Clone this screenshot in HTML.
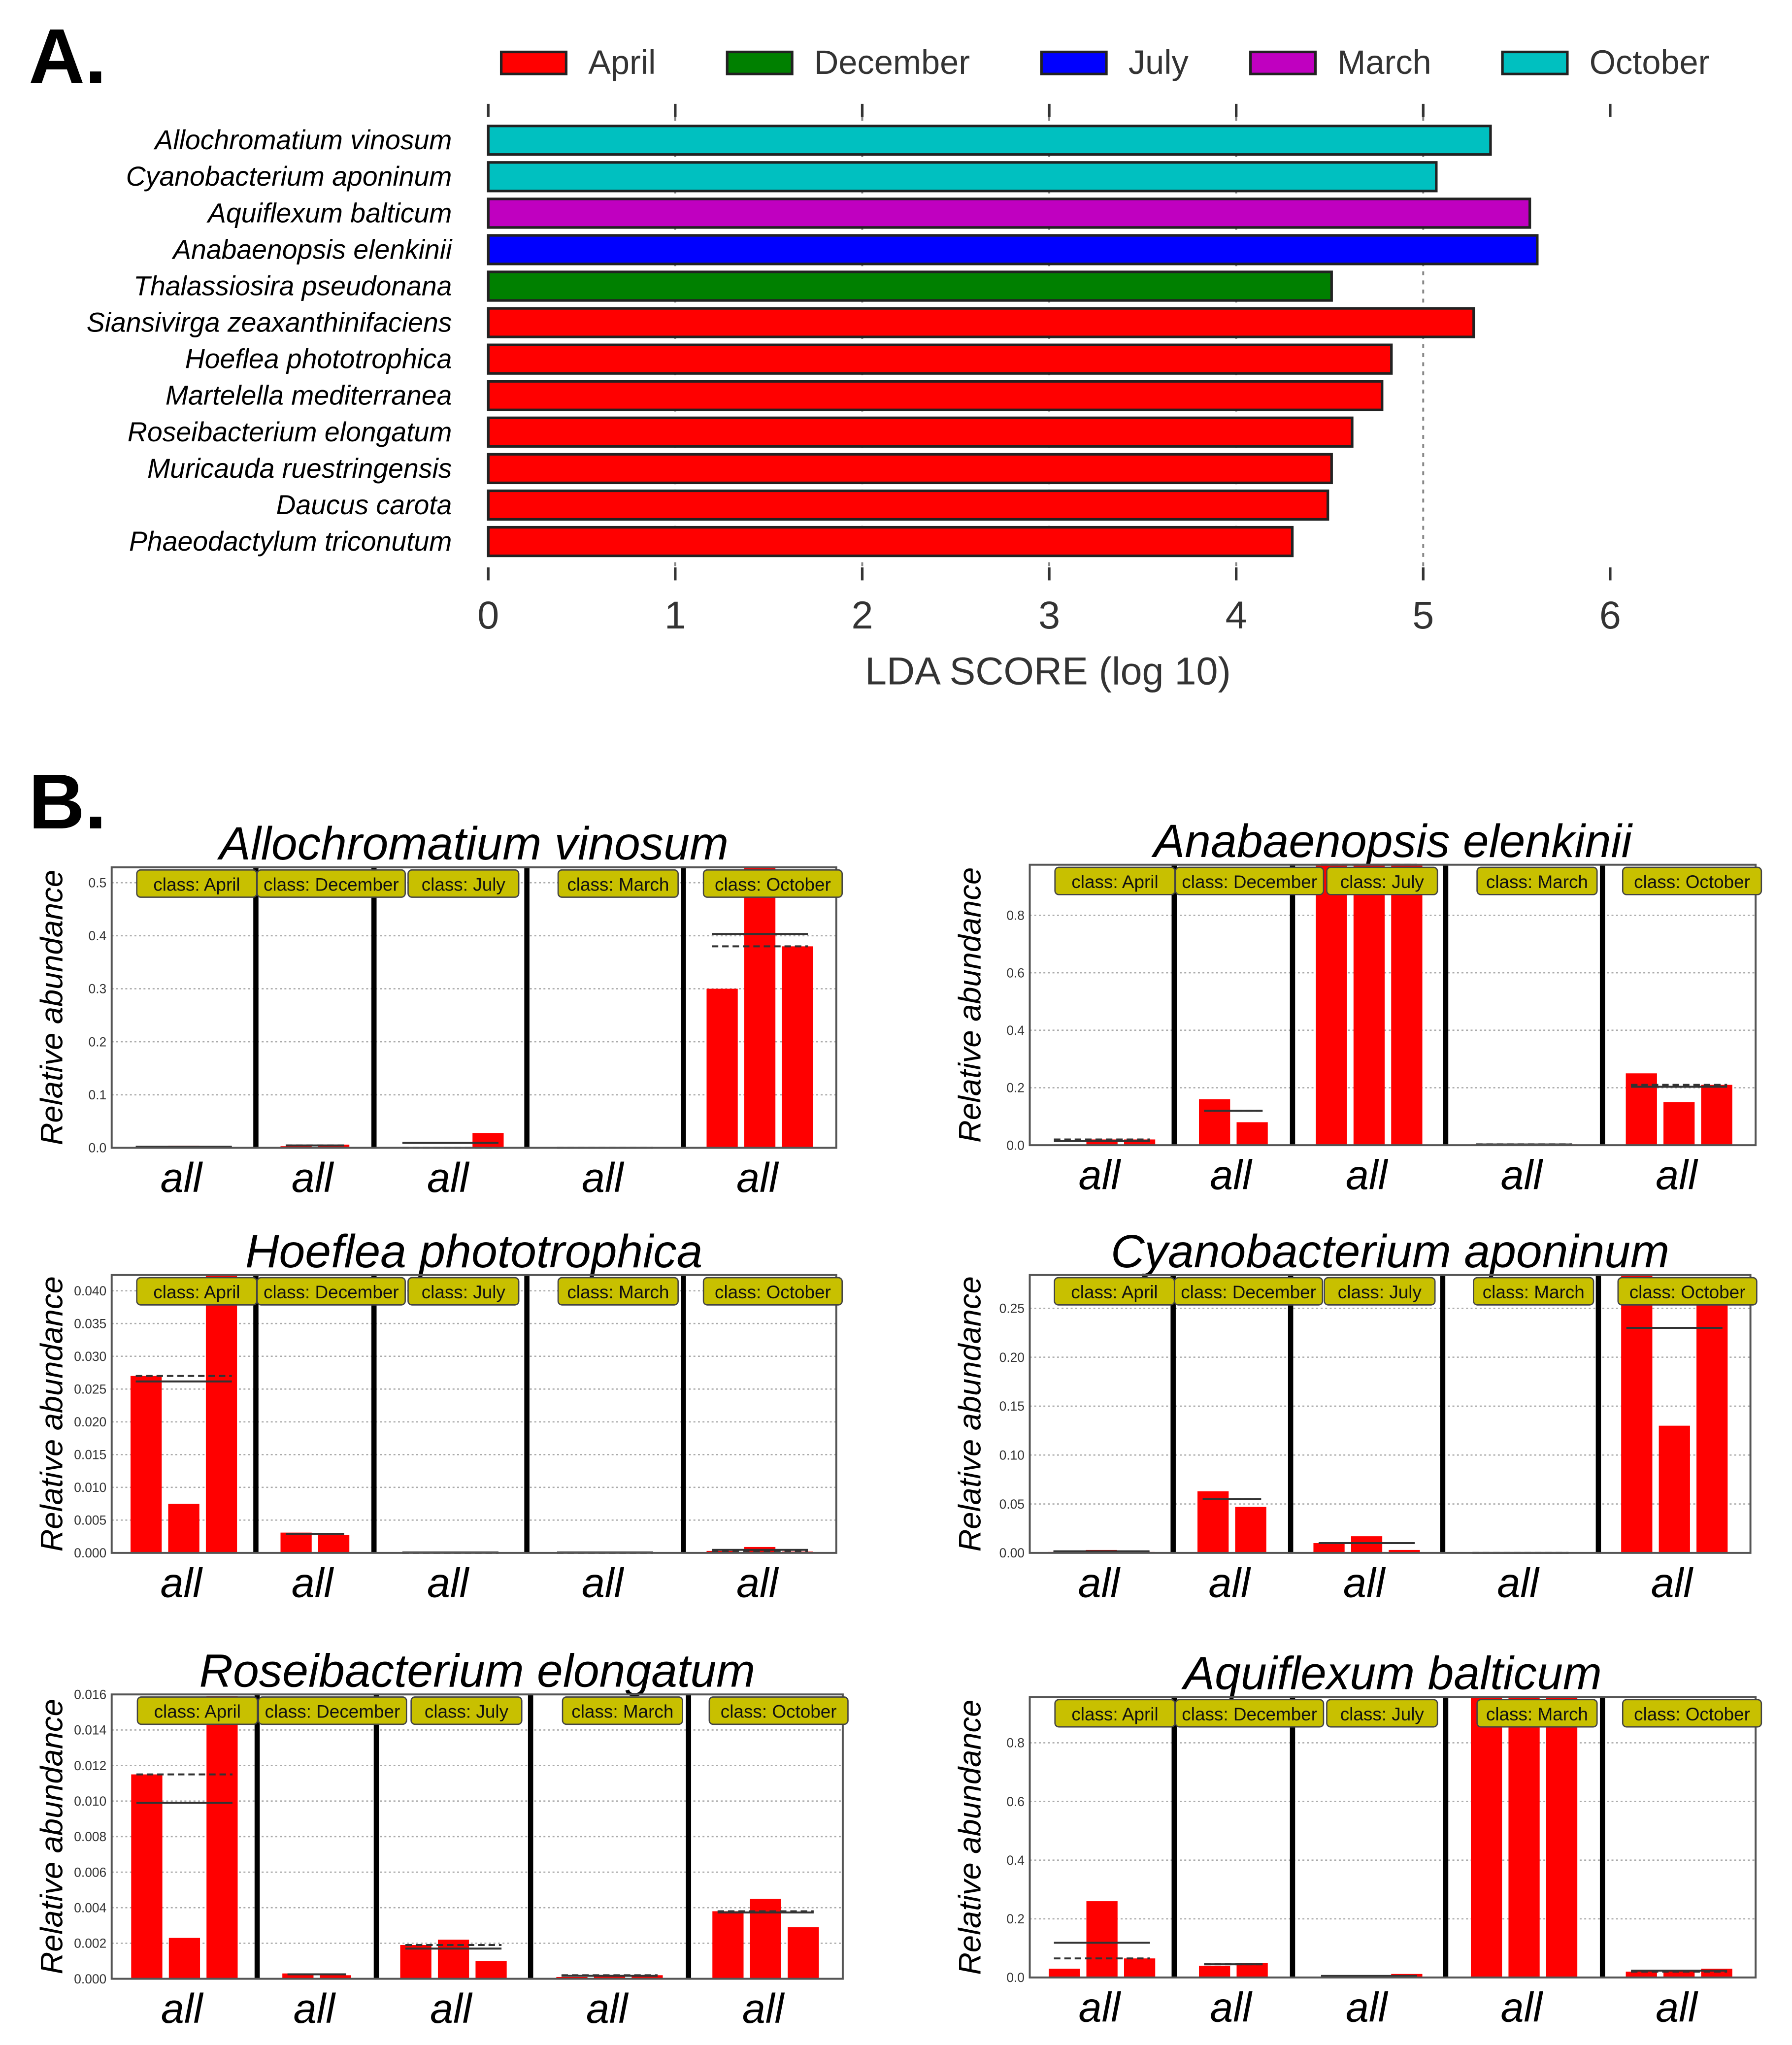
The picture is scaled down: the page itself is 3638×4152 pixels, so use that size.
<!DOCTYPE html>
<html><head><meta charset="utf-8"><style>
html,body{margin:0;padding:0;background:#fff;}
svg{display:block;}
text{font-family:"Liberation Sans","DejaVu Sans",sans-serif;}
</style></head><body>
<svg id="fig" xmlns="http://www.w3.org/2000/svg" width="3638" height="4152" viewBox="0 0 1380 1575">
<rect x="0" y="0" width="1380" height="1575" fill="#fff"/>
<g id="panelA"></g>
<g id="panelB"></g>
</svg>
<script>
// ---------- Panel A data ----------
const ldaTaxa = ["Allochromatium vinosum","Cyanobacterium aponinum","Aquiflexum balticum","Anabaenopsis elenkinii","Thalassiosira pseudonana","Siansivirga zeaxanthinifaciens","Hoeflea phototrophica","Martelella mediterranea","Roseibacterium elongatum","Muricauda ruestringensis","Daucus carota","Phaeodactylum triconutum"];
const ldaScores = [5.36,5.07,5.57,5.61,4.51,5.27,4.83,4.78,4.62,4.51,4.49,4.30];
const ldaClass = ["October","October","March","July","December","April","April","April","April","April","April","April"];
const classNames = ["April","December","July","March","October"];
const classColors = ["#ff0000","#008000","#0000ff","#c000c0","#00c0c0"];
const ldaTicks = [0,1,2,3,4,5,6];

// ---------- Panel B data ----------
const groupNames = ["April","December","July","March","October"];
const plotTitles = ["Allochromatium vinosum","Anabaenopsis elenkinii","Hoeflea phototrophica","Cyanobacterium aponinum","Roseibacterium elongatum","Aquiflexum balticum"];
const yMaxes = [0.529,0.976,0.0424,0.284,0.016,0.956];
const yTickLabels = [
 ["0.0","0.1","0.2","0.3","0.4","0.5"],
 ["0.0","0.2","0.4","0.6","0.8"],
 ["0.000","0.005","0.010","0.015","0.020","0.025","0.030","0.035","0.040"],
 ["0.00","0.05","0.10","0.15","0.20","0.25"],
 ["0.000","0.002","0.004","0.006","0.008","0.010","0.012","0.014","0.016"],
 ["0.0","0.2","0.4","0.6","0.8"]
];
const valsAllochromatium = [[0.001,0.004,0.001],[0.003,0.006],[0.0,0.0,0.028],[0.0,0.0,0.0],[0.30,0.53,0.38]];
const valsAnabaenopsis = [[0.002,0.02,0.02],[0.16,0.08],[0.98,0.98,0.98],[0.003,0.002,0.003],[0.25,0.15,0.21]];
const valsHoeflea = [[0.027,0.0075,0.044],[0.0031,0.0027],[0.0,0.0002,0.0],[0.0,0.0002,0.0],[0.0003,0.0009,0.0002]];
const valsCyanobacterium = [[0.001,0.003,0.001],[0.063,0.047],[0.01,0.017,0.003],[0.0,0.0,0.0],[0.29,0.13,0.27]];
const valsRoseibacterium = [[0.0115,0.0023,0.0159],[0.0003,0.0002],[0.0019,0.0022,0.001],[0.0001,0.0002,0.0002],[0.0038,0.0045,0.0029]];
const valsAquiflexum = [[0.03,0.26,0.065],[0.04,0.05],[0.002,0.002,0.012],[0.96,0.96,0.96],[0.02,0.02,0.03]];
const allValues = [valsAllochromatium,valsAnabaenopsis,valsHoeflea,valsCyanobacterium,valsRoseibacterium,valsAquiflexum];

const NS="http://www.w3.org/2000/svg";
function mk(parent,tag,attrs,txt){const e=document.createElementNS(NS,tag);for(const k in attrs)e.setAttribute(k,attrs[k]);if(txt!==undefined)e.textContent=txt;parent.appendChild(e);return e;}

// ---------- Panel A ----------
const A=document.getElementById('panelA');
let t=mk(A,'text',{x:22,y:64,'font-size':60,'font-weight':'bold'},'A.');


const legX=[386,560,802,963,1157];
classNames.forEach((c,i)=>{
  const g=mk(A,'g',{});
  
  
  mk(g,'rect',{x:legX[i],y:40,width:50,height:17,fill:classColors[i],stroke:'#222','stroke-width':2});
  mk(g,'text',{x:legX[i]+67,y:57,'font-size':26,fill:'#333'},c);
});
const ax0=376, axU=144, barTop=108, barPitch=28.1, barH=22;
const xA=v=>ax0+v*axU;
ldaTicks.forEach(v=>{
  const x=xA(v);
  const g=mk(A,'g',{});
  
  
  mk(g,'line',{x1:x,y1:80,x2:x,y2:90,stroke:'#333','stroke-width':2});
  mk(g,'line',{x1:x,y1:437,x2:x,y2:447,stroke:'#333','stroke-width':2});
  if(v>0&&v<6) mk(g,'line',{x1:x,y1:90,x2:x,y2:437,stroke:'#888','stroke-width':1.5,'stroke-dasharray':'3,4'});
  mk(g,'text',{x:x,y:484,'font-size':30,'text-anchor':'middle',fill:'#333'},String(v));
});
ldaTaxa.forEach((n,i)=>{
  const cy=barTop+i*barPitch;
  const col=classColors[classNames.indexOf(ldaClass[i])];
  const r=mk(A,'rect',{x:ax0,y:cy-barH/2,width:xA(ldaScores[i])-ax0,height:barH,fill:col,stroke:'#222','stroke-width':2});
  
  
  const l=mk(A,'text',{x:348,y:cy+7,'font-size':21,'font-style':'italic','text-anchor':'end'},n);
  
  
});
t=mk(A,'text',{x:807,y:527,'font-size':30,'text-anchor':'middle',fill:'#333'},'LDA SCORE (log 10)');



// ---------- Panel B ----------
const B=document.getElementById('panelB');
t=mk(B,'text',{x:22,y:638,'font-size':60,'font-weight':'bold'},'B.');


const boxes=[[86,644,668,884],[793,1352,666,882],[86,644,982,1196],[793,1348,982,1196],[86,649,1305,1524],[793,1352,1307,1523]];
const bFrac=[0,0.199,0.362,0.573,0.789,1];
allValues.forEach((vals,p)=>{
  const [x0,x1,y0,y1]=boxes[p];
  const W=x1-x0, H=y1-y0, ym=yMaxes[p];
  const yS=v=>y1-Math.min(v,ym)/ym*H;
  const g=mk(B,'g',{});
  
  
  const cx=(x0+x1)/2;
  const tt=mk(g,'text',{x:cx,y:y0-6,'font-size':36,'font-style':'italic','text-anchor':'middle'},plotTitles[p]);
  
  
  const yl=mk(g,'text',{x:0,y:0,'font-size':24,'font-style':'italic','text-anchor':'middle',transform:`translate(${x0-38},${(y0+y1)/2}) rotate(-90)`},'Relative abundance');
  
  
  const labs=yTickLabels[p];
  labs.forEach(s=>{
    const y=yS(parseFloat(s));
    mk(g,'line',{x1:x0,y1:y,x2:x1,y2:y,stroke:'#aaa','stroke-width':1,'stroke-dasharray':'1.5,2'});
    const tl=mk(g,'text',{x:x0-4,y:y+3.5,'font-size':10,'text-anchor':'end',fill:'#333'},s);
    
    
  });
  vals.forEach((grp,gi)=>{
    const gx0=x0+bFrac[gi]*W, gx1=x0+bFrac[gi+1]*W, gc=(gx0+gx1)/2;
    const pitch=29, bw=24, n=grp.length;
    const start=gc-(n*pitch-5)/2;
    grp.forEach((v,k)=>{
      const bx=start+k*pitch, by=yS(v);
      const r=mk(g,'rect',{x:bx,y:by,width:bw,height:Math.max(0,y1-by),fill:'#ff0000'});
      
      
    });
    const mean=grp.reduce((a,b)=>a+b,0)/n;
    const srt=[...grp].sort((a,b)=>a-b);
    const med=n%2?srt[(n-1)/2]:(srt[n/2-1]+srt[n/2])/2;
    const lx0=start+4, lx1=start+n*pitch-9;
    const ml=mk(g,'line',{x1:lx0,y1:yS(mean),x2:lx1,y2:yS(mean),stroke:'#333','stroke-width':1.5});
    
    
    const dl=mk(g,'line',{x1:lx0,y1:yS(med),x2:lx1,y2:yS(med),stroke:'#333','stroke-width':1.5,'stroke-dasharray':'5,3'});
    
    
    const al=mk(g,'text',{x:gc-2,y:y1+34,'font-size':32,'font-style':'italic','text-anchor':'middle'},'all');
    
    
    if(gi>0){
      const s=mk(g,'line',{x1:gx0,y1:y0,x2:gx0,y2:y1,stroke:'#000','stroke-width':4});
      
      
    }
  });
  mk(g,'rect',{x:x0,y:y0,width:W,height:H,fill:'none',stroke:'#555','stroke-width':1.5});
  vals.forEach((grp,gi)=>{
    const gx0=x0+bFrac[gi]*W, gx1=x0+bFrac[gi+1]*W, gc=(gx0+gx1)/2;
    const label='class: '+groupNames[gi];
    const bw=label.length*7.2+6;
    let bx=gc+10-bw/2;
    if(bx<gx0+2&&gi>0) bx=gx0+1;
    const lg=mk(g,'g',{});
    
    
    mk(lg,'rect',{x:bx,y:y0+2,width:bw,height:21,rx:3,fill:'#c8c000',stroke:'#444','stroke-width':1});
    mk(lg,'text',{x:bx+bw/2,y:y0+18,'font-size':14,'text-anchor':'middle',fill:'#111'},label);
  });
});
</script>
</body></html>
